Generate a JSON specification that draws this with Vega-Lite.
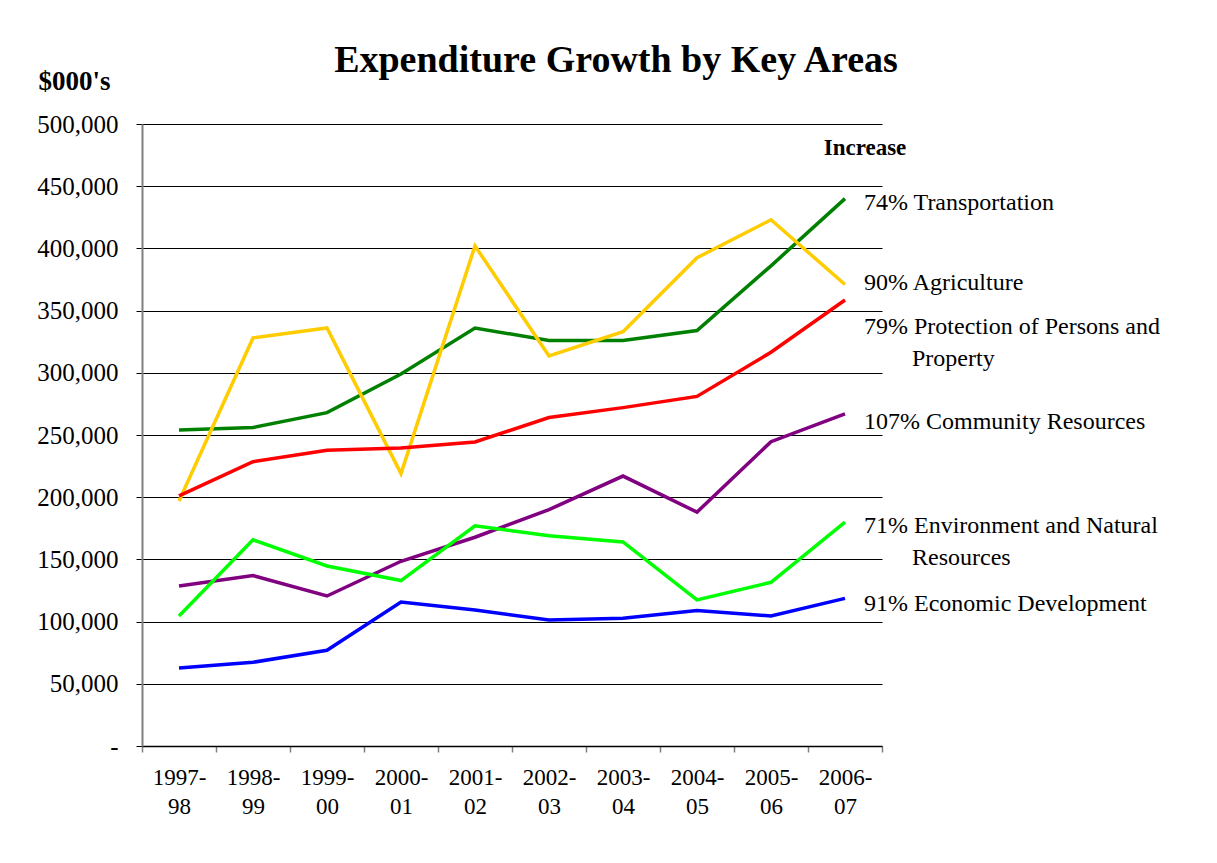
{
  "$schema": "https://vega.github.io/schema/vega-lite/v6.json",
  "width": 740,
  "height": 622,
  "autosize": {"type": "none"},
  "padding": {"left": 142, "top": 124, "right": 335, "bottom": 117},
  "background": "white",
  "config": {
    "view": {"stroke": null},
    "font": "Liberation Serif"
  },
  "title": {
    "text": "Expenditure Growth by Key Areas",
    "font": "Liberation Serif",
    "fontSize": 38,
    "fontWeight": "bold",
    "color": "black",
    "anchor": "middle",
    "baseline": "top",
    "dx": 104,
    "dy": 33,
    "offset": 20
  },
  "datasets": {
    "series": [
      {"year": "1997-98", "series": "Transportation", "value": 254000},
      {"year": "1998-99", "series": "Transportation", "value": 256000},
      {"year": "1999-00", "series": "Transportation", "value": 268000},
      {"year": "2000-01", "series": "Transportation", "value": 299000},
      {"year": "2001-02", "series": "Transportation", "value": 336000},
      {"year": "2002-03", "series": "Transportation", "value": 326000},
      {"year": "2003-04", "series": "Transportation", "value": 326000},
      {"year": "2004-05", "series": "Transportation", "value": 334000},
      {"year": "2005-06", "series": "Transportation", "value": 386000},
      {"year": "2006-07", "series": "Transportation", "value": 440000},
      {"year": "1997-98", "series": "Agriculture", "value": 197000},
      {"year": "1998-99", "series": "Agriculture", "value": 328000},
      {"year": "1999-00", "series": "Agriculture", "value": 336000},
      {"year": "2000-01", "series": "Agriculture", "value": 219000},
      {"year": "2001-02", "series": "Agriculture", "value": 402000},
      {"year": "2002-03", "series": "Agriculture", "value": 313500},
      {"year": "2003-04", "series": "Agriculture", "value": 333000},
      {"year": "2004-05", "series": "Agriculture", "value": 392500},
      {"year": "2005-06", "series": "Agriculture", "value": 423000},
      {"year": "2006-07", "series": "Agriculture", "value": 371000},
      {"year": "1997-98", "series": "Protection", "value": 201000},
      {"year": "1998-99", "series": "Protection", "value": 228500},
      {"year": "1999-00", "series": "Protection", "value": 237700},
      {"year": "2000-01", "series": "Protection", "value": 239600},
      {"year": "2001-02", "series": "Protection", "value": 244400},
      {"year": "2002-03", "series": "Protection", "value": 264000},
      {"year": "2003-04", "series": "Protection", "value": 272000},
      {"year": "2004-05", "series": "Protection", "value": 281000},
      {"year": "2005-06", "series": "Protection", "value": 316500},
      {"year": "2006-07", "series": "Protection", "value": 358500},
      {"year": "1997-98", "series": "Community", "value": 128600},
      {"year": "1998-99", "series": "Community", "value": 137000},
      {"year": "1999-00", "series": "Community", "value": 120600},
      {"year": "2000-01", "series": "Community", "value": 148500},
      {"year": "2001-02", "series": "Community", "value": 167800},
      {"year": "2002-03", "series": "Community", "value": 190000},
      {"year": "2003-04", "series": "Community", "value": 217000},
      {"year": "2004-05", "series": "Community", "value": 188000},
      {"year": "2005-06", "series": "Community", "value": 244600},
      {"year": "2006-07", "series": "Community", "value": 267000},
      {"year": "1997-98", "series": "Environment", "value": 104500},
      {"year": "1998-99", "series": "Environment", "value": 165800},
      {"year": "1999-00", "series": "Environment", "value": 144700},
      {"year": "2000-01", "series": "Environment", "value": 133000},
      {"year": "2001-02", "series": "Environment", "value": 177000},
      {"year": "2002-03", "series": "Environment", "value": 169000},
      {"year": "2003-04", "series": "Environment", "value": 164000},
      {"year": "2004-05", "series": "Environment", "value": 117400},
      {"year": "2005-06", "series": "Environment", "value": 131600},
      {"year": "2006-07", "series": "Environment", "value": 180000},
      {"year": "1997-98", "series": "Economic", "value": 62700},
      {"year": "1998-99", "series": "Economic", "value": 67300},
      {"year": "1999-00", "series": "Economic", "value": 77000},
      {"year": "2000-01", "series": "Economic", "value": 115800},
      {"year": "2001-02", "series": "Economic", "value": 109300},
      {"year": "2002-03", "series": "Economic", "value": 101300},
      {"year": "2003-04", "series": "Economic", "value": 102700},
      {"year": "2004-05", "series": "Economic", "value": 109000},
      {"year": "2005-06", "series": "Economic", "value": 104500},
      {"year": "2006-07", "series": "Economic", "value": 118700}
    ],
    "labels": [
      {"year": "2006-07", "label": "74% Transportation", "value": 436500},
      {"year": "2006-07", "label": "90% Agriculture", "value": 372200},
      {"year": "2006-07", "label": "79% Protection of Persons and", "value": 336800},
      {"year": "2006-07", "label": "107% Community Resources", "value": 260500},
      {"year": "2006-07", "label": "71% Environment and Natural", "value": 176900},
      {"year": "2006-07", "label": "91% Economic Development", "value": 114200}
    ],
    "labels2": [
      {"year": "2006-07", "label": "Property", "value": 311100},
      {"year": "2006-07", "label": "Resources", "value": 151100}
    ],
    "header": [
      {"year": "2006-07", "label": "Increase", "value": 480700}
    ]
  },
  "layer": [
    {
      "data": {"name": "series"},
      "mark": {"type": "line", "strokeWidth": 3.5, "strokeJoin": "miter"},
      "encoding": {
        "x": {
          "field": "year",
          "type": "ordinal",
          "scale": {"type": "band", "paddingInner": 0, "paddingOuter": 0},
          "axis": {
            "title": null,
            "tickBand": "extent",
            "domainColor": "black",
            "domainWidth": 1.5,
            "tickColor": "#808080",
            "tickWidth": 1.5,
            "tickSize": 6,
            "labelAngle": 0,
            "labelFont": "Liberation Serif",
            "labelFontSize": 23,
            "labelColor": "black",
            "labelPadding": 14,
            "labelLineHeight": 29,
            "labelExpr": "isString(datum.value) ? [slice(datum.value, 0, 5), slice(datum.value, 5)] : ''",
            "grid": false
          }
        },
        "y": {
          "field": "value",
          "type": "quantitative",
          "scale": {"domain": [0, 500000], "nice": false},
          "axis": {
            "title": "$000's",
            "titleAngle": 0,
            "titleFont": "Liberation Serif",
            "titleFontSize": 27,
            "titleFontWeight": "bold",
            "titleColor": "black",
            "titleAlign": "left",
            "titleBaseline": "middle",
            "titleX": -104,
            "titleY": -43,
            "values": [0, 50000, 100000, 150000, 200000, 250000, 300000, 350000, 400000, 450000, 500000],
            "labelExpr": "datum.value == 0 ? '-' : format(datum.value, ',')",
            "labelFont": "Liberation Serif",
            "labelFontSize": 25,
            "labelColor": "black",
            "labelPadding": 18,
            "grid": true,
            "gridColor": "black",
            "gridWidth": 1,
            "gridOpacity": 1,
            "domainColor": "#808080",
            "domainWidth": 2,
            "tickColor": "black",
            "tickSize": 6
          }
        },
        "color": {
          "field": "series",
          "type": "nominal",
          "scale": {
            "domain": ["Transportation", "Agriculture", "Protection", "Community", "Environment", "Economic"],
            "range": ["#008000", "#FFCC00", "#FF0000", "#800080", "#00FF00", "#0000FF"]
          },
          "legend": null
        }
      }
    },
    {
      "data": {"name": "labels"},
      "mark": {"type": "text", "align": "left", "baseline": "middle", "dx": 19, "font": "Liberation Serif", "fontSize": 24, "color": "black"},
      "encoding": {
        "x": {"field": "year", "type": "ordinal"},
        "y": {"field": "value", "type": "quantitative"},
        "text": {"field": "label"}
      }
    },
    {
      "data": {"name": "labels2"},
      "mark": {"type": "text", "align": "left", "baseline": "middle", "dx": 67, "font": "Liberation Serif", "fontSize": 24, "color": "black"},
      "encoding": {
        "x": {"field": "year", "type": "ordinal"},
        "y": {"field": "value", "type": "quantitative"},
        "text": {"field": "label"}
      }
    },
    {
      "data": {"name": "header"},
      "mark": {"type": "text", "align": "center", "baseline": "middle", "dx": 20, "font": "Liberation Serif", "fontSize": 23, "fontWeight": "bold", "color": "black"},
      "encoding": {
        "x": {"field": "year", "type": "ordinal"},
        "y": {"field": "value", "type": "quantitative"},
        "text": {"field": "label"}
      }
    }
  ]
}
